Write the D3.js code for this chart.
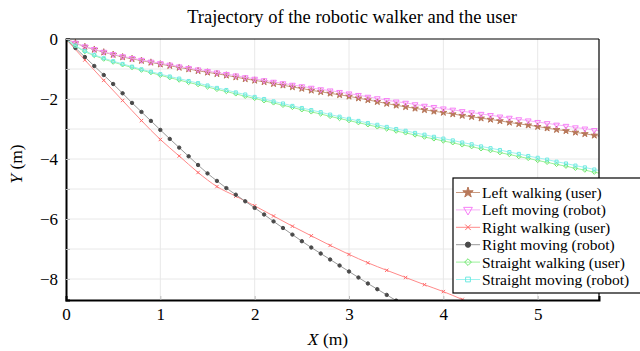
<!DOCTYPE html>
<html>
<head>
<meta charset="utf-8">
<script src="https://cdn.jsdelivr.net/npm/d3@7"></script>
<style>
  body { margin: 0; background: #fff; }
  svg { display: block; font-family: "Liberation Serif", "Times New Roman", serif; }
</style>
</head>
<body>
<div id="chart"></div>
<script>
// x positions (m) shared by the dense series
var xs = [0, 0.1, 0.2, 0.3, 0.4, 0.5, 0.6, 0.7, 0.8, 0.9, 1.0,
  1.1, 1.2, 1.3, 1.4, 1.5, 1.6, 1.7, 1.8, 1.9, 2.0,
  2.1, 2.2, 2.3, 2.4, 2.5, 2.6, 2.7, 2.8, 2.9, 3.0,
  3.1, 3.2, 3.3, 3.4, 3.5, 3.6, 3.7, 3.8, 3.9, 4.0,
  4.1, 4.2, 4.3, 4.4, 4.5, 4.6, 4.7, 4.8, 4.9, 5.0,
  5.1, 5.2, 5.3, 5.4, 5.5, 5.6, 5.7];

var leftUser = [0, -0.13, -0.26, -0.35, -0.44, -0.52, -0.60, -0.66, -0.72, -0.78, -0.84,
  -0.89, -0.95, -1.00, -1.06, -1.11, -1.16, -1.21, -1.27, -1.33, -1.38,
  -1.43, -1.49, -1.54, -1.60, -1.65, -1.71, -1.76, -1.81, -1.86, -1.91,
  -1.97, -2.03, -2.09, -2.15, -2.21, -2.26, -2.31, -2.36, -2.41, -2.45,
  -2.50, -2.55, -2.59, -2.64, -2.68, -2.73, -2.78, -2.83, -2.87, -2.92,
  -2.97, -3.02, -3.06, -3.11, -3.16, -3.21, -3.26];

var leftRobot = [0, -0.13, -0.25, -0.34, -0.43, -0.51, -0.58, -0.64, -0.70, -0.76, -0.81,
  -0.86, -0.92, -0.97, -1.02, -1.07, -1.12, -1.17, -1.22, -1.28, -1.33,
  -1.38, -1.43, -1.48, -1.53, -1.58, -1.63, -1.68, -1.72, -1.77, -1.82,
  -1.87, -1.93, -1.98, -2.04, -2.09, -2.13, -2.18, -2.23, -2.27, -2.32,
  -2.36, -2.41, -2.45, -2.50, -2.54, -2.59, -2.63, -2.68, -2.72, -2.77,
  -2.81, -2.86, -2.90, -2.95, -2.99, -3.04, -3.08];

var straightUser = [0, -0.23, -0.42, -0.55, -0.67, -0.77, -0.86, -0.95, -1.04, -1.12, -1.21,
  -1.29, -1.37, -1.45, -1.52, -1.60, -1.68, -1.75, -1.83, -1.91, -1.98,
  -2.06, -2.13, -2.21, -2.28, -2.36, -2.43, -2.50, -2.58, -2.65, -2.72,
  -2.79, -2.86, -2.93, -3.00, -3.07, -3.13, -3.20, -3.27, -3.33, -3.40,
  -3.46, -3.53, -3.59, -3.66, -3.72, -3.79, -3.85, -3.92, -3.98, -4.05,
  -4.11, -4.18, -4.24, -4.31, -4.37, -4.44, -4.50];

var straightRobot = [0, -0.22, -0.40, -0.53, -0.64, -0.74, -0.83, -0.92, -1.01, -1.09, -1.17,
  -1.25, -1.32, -1.40, -1.47, -1.55, -1.63, -1.70, -1.78, -1.85, -1.93,
  -2.00, -2.08, -2.15, -2.23, -2.30, -2.37, -2.44, -2.52, -2.59, -2.66,
  -2.73, -2.80, -2.86, -2.93, -3.00, -3.06, -3.13, -3.19, -3.26, -3.32,
  -3.38, -3.45, -3.51, -3.58, -3.64, -3.70, -3.77, -3.83, -3.90, -3.96,
  -4.02, -4.09, -4.15, -4.22, -4.28, -4.35, -4.41];

// right turn robot uses the first 37 x positions
var rightRobot = [0, -0.30, -0.60, -0.90, -1.20, -1.50, -1.81, -2.13, -2.43, -2.73, -3.03,
  -3.33, -3.62, -3.91, -4.20, -4.48, -4.73, -4.97, -5.19, -5.41, -5.63,
  -5.85, -6.08, -6.30, -6.52, -6.74, -6.95, -7.15, -7.35, -7.55, -7.75,
  -7.95, -8.15, -8.34, -8.53, -8.72, -8.91];

// right turn user is sampled more sparsely
var xsRight = [0, 0.2, 0.4, 0.6, 0.8, 1.0, 1.2, 1.4, 1.6, 1.8, 2.0, 2.2,
  2.4, 2.6, 2.8, 3.0, 3.2, 3.4, 3.6, 3.8, 4.0, 4.2, 4.4];
var rightUser = [0, -0.70, -1.38, -2.05, -2.72, -3.35, -3.90, -4.45, -4.92, -5.24, -5.56, -5.90,
  -6.24, -6.56, -6.88, -7.18, -7.46, -7.71, -7.95, -8.19, -8.42, -8.68, -8.94];

var xTicks = [0, 1, 2, 3, 4, 5];
var yTicks = [0, -2, -4, -6, -8];
var yMinor = [0, -1, -2, -3, -4, -5, -6, -7, -8];
var gridX = [1, 2, 3, 4, 5];
var gridY = [-1, -2, -3, -4, -5, -6, -7, -8];

var seriesNames = ["Left walking (user)", "Left moving (robot)", "Right walking (user)",
  "Right moving (robot)", "Straight walking (user)", "Straight moving (robot)"];

var svgWidth = 640;
var svgHeight = 351;
var margin = { top: 39, right: 41, bottom: 51, left: 66 };
var chartWidth = svgWidth - margin.left - margin.right;
var chartHeight = svgHeight - margin.top - margin.bottom;
var serif = "'Liberation Serif', 'Times New Roman', serif";

var svg = d3.select("#chart").append("svg")
  .attr("width", svgWidth)
  .attr("height", svgHeight);

var chartGroup = svg.append("g")
  .attr("transform", `translate(${margin.left},${margin.top})`);

var xScale = d3.scaleLinear().domain([0, 5.65]).range([0, chartWidth]);
var yScale = d3.scaleLinear().domain([-8.7, 0]).range([chartHeight, 0]);

// grid
chartGroup.append("g").selectAll("line").data(gridX).enter().append("line")
  .attr("x1", d => xScale(d)).attr("x2", d => xScale(d))
  .attr("y1", 0).attr("y2", chartHeight)
  .attr("stroke", "#e8e8e8").attr("stroke-width", 1);
chartGroup.append("g").selectAll("line").data(gridY).enter().append("line")
  .attr("y1", d => yScale(d)).attr("y2", d => yScale(d))
  .attr("x1", 0).attr("x2", chartWidth)
  .attr("stroke", "#e8e8e8").attr("stroke-width", 1);

// clip for the data
svg.append("defs").append("clipPath").attr("id", "clip")
  .append("rect").attr("x", 0).attr("y", 0)
  .attr("width", chartWidth).attr("height", chartHeight);

var symX = d3.symbolTimes || d3.symbolX || d3.symbolCross;
var symDiamond = d3.symbolDiamond2 || d3.symbolDiamond;
var symSquare = d3.symbolSquare2 || d3.symbolSquare;

var series = [
  { name: seriesNames[0], x: xs, y: leftUser, line: "#c99a80", color: "#b8785a", sym: d3.symbolStar, size: 14, fill: true, rot: 0 },
  { name: seriesNames[1], x: xs, y: leftRobot, line: "#f7b0f7", color: "#f77ef7", sym: d3.symbolTriangle, size: 14, fill: false, rot: 180 },
  { name: seriesNames[2], x: xsRight, y: rightUser, line: "#ff8a8a", color: "#ff6a6a", sym: symX, size: 9, fill: false, rot: 0 },
  { name: seriesNames[3], x: xs, y: rightRobot, line: "#999", color: "#4a4a4a", sym: d3.symbolCircle, size: 9, fill: true, rot: 0 },
  { name: seriesNames[4], x: xs, y: straightUser, line: "#9af29a", color: "#6ee66e", sym: symDiamond, size: 12, fill: false, rot: 0 },
  { name: seriesNames[5], x: xs, y: straightRobot, line: "#9ef2ee", color: "#6eeae2", sym: symSquare, size: 12, fill: false, rot: 0 }
];

var plotGroup = chartGroup.append("g").attr("clip-path", "url(#clip)");

var lineGen = d3.line()
  .x(d => xScale(d[0]))
  .y(d => yScale(d[1]))
  .curve(d3.curveMonotoneX);

series.forEach(function(s) {
  var pts = s.y.map((v, i) => [s.x[i], v]);
  plotGroup.append("path")
    .datum(pts)
    .attr("d", lineGen)
    .attr("fill", "none")
    .attr("stroke", s.line)
    .attr("stroke-width", 1);
  plotGroup.append("g").selectAll("path").data(pts).enter().append("path")
    .attr("d", d3.symbol().type(s.sym).size(s.size))
    .attr("transform", d => `translate(${xScale(d[0])},${yScale(d[1])}) rotate(${s.rot})`)
    .attr("fill", s.fill ? s.color : "none")
    .attr("stroke", s.color)
    .attr("stroke-width", 1);
});

// box
chartGroup.append("line").attr("x1", 0).attr("x2", chartWidth).attr("y1", 0).attr("y2", 0)
  .attr("stroke", "#000").attr("stroke-width", 1.2);
chartGroup.append("line").attr("x1", chartWidth).attr("x2", chartWidth).attr("y1", 0).attr("y2", chartHeight)
  .attr("stroke", "#000").attr("stroke-width", 1.2);

// axes with inward ticks
var bottomAxis = d3.axisBottom(xScale).tickValues(xTicks).tickSize(-4).tickPadding(8)
  .tickFormat(d3.format("d"));
var leftAxis = d3.axisLeft(yScale).tickValues(yMinor).tickSize(-4).tickPadding(8)
  .tickFormat(d => yTicks.indexOf(d) >= 0 ? (d < 0 ? "\u2212" + Math.abs(d) : "0") : "");

var xAxis = chartGroup.append("g")
  .attr("transform", `translate(0,${chartHeight})`)
  .call(bottomAxis);
var yAxis = chartGroup.append("g").call(leftAxis);

[xAxis, yAxis].forEach(function(ax) {
  ax.select(".domain").attr("stroke", "#000").attr("stroke-width", 2);
  ax.selectAll(".tick line").attr("stroke", "#bbb");
  ax.selectAll("text").attr("font-size", 17).attr("fill", "#000")
    .style("font-family", serif);
});

// title
svg.append("text")
  .attr("x", 352).attr("y", 23)
  .attr("text-anchor", "middle")
  .attr("font-size", 18.5)
  .text("Trajectory of the robotic walker and the user");

// axis labels
var xLab = svg.append("text")
  .attr("x", 328).attr("y", 345)
  .attr("text-anchor", "middle")
  .attr("font-size", 17.5);
xLab.append("tspan").attr("font-style", "italic").text("X");
xLab.append("tspan").text(" (m)");

var yLab = svg.append("text")
  .attr("transform", "translate(22,164) rotate(-90)")
  .attr("text-anchor", "middle")
  .attr("font-size", 17.5);
yLab.append("tspan").attr("font-style", "italic").text("Y");
yLab.append("tspan").text(" (m)");

// legend
var legend = svg.append("g").attr("transform", "translate(453,178)");
legend.append("rect")
  .attr("x", 0).attr("y", 0).attr("width", 190).attr("height", 115)
  .attr("fill", "#fff").attr("stroke", "#000").attr("stroke-width", 1.2);

var legendRows = legend.selectAll("g.row").data(series).enter().append("g")
  .attr("class", "row")
  .attr("transform", (d, i) => `translate(0,${14.5 + i * 17.4})`);

legendRows.append("line")
  .attr("x1", 3).attr("x2", 27).attr("y1", 0).attr("y2", 0)
  .attr("stroke", d => d.line).attr("stroke-width", 1);
legendRows.append("path")
  .attr("d", d => d3.symbol().type(d.sym).size(d.size * 2.4)())
  .attr("transform", d => `translate(15,0) rotate(${d.rot})`)
  .attr("fill", d => d.fill ? d.color : "none")
  .attr("stroke", d => d.color)
  .attr("stroke-width", 1);
legendRows.append("text")
  .attr("x", 29).attr("y", 0).attr("dy", "0.35em")
  .attr("font-size", 15.5)
  .text(d => d.name);
</script>
</body>
</html>
